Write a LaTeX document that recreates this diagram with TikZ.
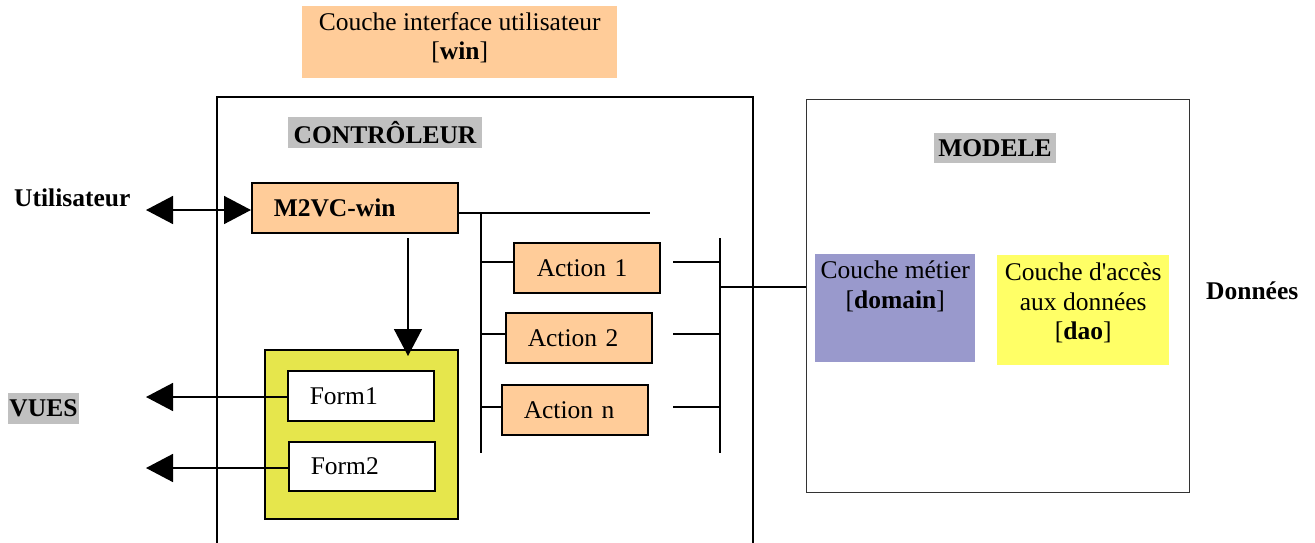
\documentclass[tikz,border=0pt]{standalone}
\usepackage{fontspec}
\setmainfont{Liberation Serif}
\usetikzlibrary{arrows.meta}
\definecolor{peach}{HTML}{FFCC99}
\definecolor{olive}{HTML}{E6E64C}
\definecolor{lavender}{HTML}{9999CC}
\definecolor{lemon}{HTML}{FFFF66}
\definecolor{shade}{HTML}{C0C0C0}

\begin{document}
\begin{tikzpicture}[x=1pt, y=-1pt,
  every node/.style={font=\fontsize{25.5}{29.5}\selectfont, inner sep=0pt},
  wire/.style={line width=1.6pt},
  bigtip/.style={-{Triangle[length=27pt,width=28pt]}},
  framebox/.style={draw, line width=1.5pt, anchor=north west},
  textbox/.style={framebox, align=left, inner ysep=0pt, minimum height=50pt},
  tag/.style={fill=shade, font=\fontsize{25.5}{29.5}\selectfont\bfseries},
  plain/.style={font=\fontsize{25.5}{29.5}\selectfont\bfseries},
]
\useasboundingbox (0,0) rectangle (1315,542);

% user interface layer
\node[fill=peach, anchor=north west, minimum width=315pt, minimum height=72pt] (ui) at (302,6) {};
\node[align=center, anchor=north] (uitxt) at ([yshift=-6pt]ui.north) {Couche interface utilisateur\\{[}\textbf{win}{]}};

% controller frame (open at the bottom)
\draw[line width=1.8pt] (217,545) -- (217,97) -- (753,97) -- (753,545);
\node[tag, minimum width=194pt, minimum height=31pt] (ctrl) at (385,132.5) {CONTRÔLEUR};

% model frame
\node[draw=black!80, line width=1.3pt, anchor=north west, minimum width=383pt, minimum height=393pt] (model) at (806,99) {};
\node[tag, minimum width=122pt, minimum height=30pt] (mtag) at (995,148) {MODELE};

% front controller
\node[textbox, fill=peach, inner xsep=22pt, text width=162pt, font=\fontsize{25.5}{29.5}\selectfont\bfseries]
  (m2vc) at (251,182) {M2VC-win};

% actions
\node[textbox, fill=peach, inner xsep=23pt, text width=100pt] (a1) at (513,242) {Action 1};
\node[textbox, fill=peach, inner xsep=22pt, text width=102pt] (a2) at (505,312) {Action 2};
\node[textbox, fill=peach, inner xsep=22pt, text width=102pt] (an) at (501,384) {Action n};

% views
\node[framebox, fill=olive, line width=2pt, minimum width=193pt, minimum height=169pt] (views) at (264,349) {};
\node[textbox, fill=white, inner xsep=22pt, text width=102pt] (f1) at (287,370) {Form1};
\node[textbox, fill=white, inner xsep=22pt, text width=102pt, minimum height=49pt] (f2) at (288,441) {Form2};

% model layers
\node[fill=lavender, anchor=north west, minimum width=160pt, minimum height=108pt] (metier) at (815,254) {};
\node[align=center, anchor=north] (metiertxt) at ([yshift=-7pt]metier.north) {Couche métier\\{[}\textbf{domain}{]}};
\node[fill=lemon, anchor=north west, minimum width=172pt, minimum height=110pt] (dao) at (997,255) {};
\node[align=center, anchor=north] (daotxt) at ([yshift=-8pt]dao.north) {Couche d\textquotesingle accès\\aux données\\{[}\textbf{dao}{]}};

% outside labels
\node[plain, anchor=west] (user) at (14,198) {Utilisateur};
\node[tag, minimum width=71pt, minimum height=31pt] (vues) at (43.5,408.5) {VUES};
\node[plain, anchor=west] (data) at (1206,291) {Données};

% user <-> front controller
\coordinate (uend) at (146,210);
\draw[wire, {Triangle[length=27pt,width=28pt]}-{Triangle[length=27pt,width=28pt]}] (uend) -- (m2vc.west |- uend);

% front controller -> views
\coordinate (dstart) at (408,238);
\coordinate (dend) at (408,356);
\draw[wire, bigtip] (dstart) -- (dend);

% views -> outside
\coordinate (v1) at (146,397);
\coordinate (v2) at (146,468);
\draw[wire, bigtip] (f1.west |- v1) -- (v1);
\draw[wire, bigtip] (f2.west |- v2) -- (v2);

% dispatch bus
\coordinate (busend) at (650,213);
\coordinate (bustop) at (481,213);
\coordinate (busbot) at (481,453);
\draw[wire] (m2vc.east |- busend) -- (busend);
\draw[wire] (bustop) -- (busbot);
\draw[wire] (a1.west |- 481,262) -- (481,262);
\draw[wire] (a2.west |- 481,334) -- (481,334);
\draw[wire] (an.west |- 481,407) -- (481,407);

% model bus
\coordinate (mtop) at (720,238);
\coordinate (mbot) at (720,453);
\draw[wire] (mtop) -- (mbot);
\draw[wire] (673,262) -- (720,262);
\draw[wire] (673,334) -- (720,334);
\draw[wire] (673,407) -- (720,407);
\draw[wire] (720,287) -- (model.west |- 720,287);
\end{tikzpicture}
\end{document}
